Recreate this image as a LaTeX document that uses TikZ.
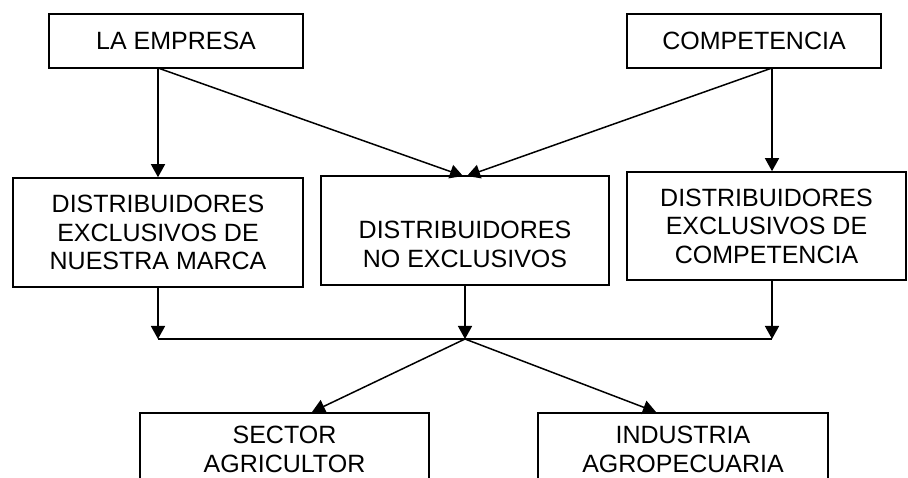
\documentclass[tikz,border=0pt]{standalone}
\usepackage{fontspec}
\setmainfont{Liberation Sans}
\usetikzlibrary{arrows.meta}
\tikzset{
  box/.style={draw, line width=1.6pt, inner sep=0pt, align=center, font=\fontsize{25}{28.5}\selectfont},
  txt/.style={inner sep=0pt, align=center, font=\fontsize{25}{28.5}\selectfont},
  arr/.style={line width=1.5pt, -{Triangle[length=13pt,width=14pt]}},
  ln/.style={line width=1.5pt}
}
\begin{document}
\begin{tikzpicture}[x=1pt,y=-1pt]
\clip (0,0) rectangle (908,478);
% top boxes
\node[box, minimum width=254pt, minimum height=54pt] (emp) at (176,41) {LA EMPRESA};
\node[box, minimum width=254pt, minimum height=54pt] (comp) at (754,41) {COMPETENCIA};
% middle row
\node[box, minimum width=290pt, minimum height=109pt] (izq) at (158,232.5) {DISTRIBUIDORES\\EXCLUSIVOS DE\\NUESTRA MARCA};
\node[box, minimum width=288pt, minimum height=109pt] (mid) at (465,230.5) {};
\node[txt] (midt) at (465,244.5) {DISTRIBUIDORES\\NO EXCLUSIVOS};
\node[box, minimum width=279pt, minimum height=108pt] (der) at (766.5,226) {DISTRIBUIDORES\\EXCLUSIVOS DE\\COMPETENCIA};
% bottom boxes (cut off by the lower edge, as in the reference)
\node[box, anchor=north, minimum width=289pt, minimum height=90pt] (sec) at (284.5,412) {};
\node[txt] (sect) at (284.5,449.5) {SECTOR\\AGRICULTOR};
\node[box, anchor=north, minimum width=290pt, minimum height=90pt] (ind) at (683,412) {};
\node[txt] (indt) at (683,449.5) {INDUSTRIA\\AGROPECUARIA};
% coordinates
\coordinate (empo) at (158,68);
\coordinate (compo) at (772,68);
\coordinate (m1) at (463,176);
\coordinate (m2) at (467,176);
\coordinate (j1) at (158,339);
\coordinate (j2) at (465,339);
\coordinate (j3) at (772,339);
\coordinate (s1) at (312,412);
\coordinate (s2) at (656,412);
% connectors
\draw[arr] (empo) -- (izq.north -| empo);
\draw[arr] (empo) -- (m1);
\draw[arr] (compo) -- (m2);
\draw[arr] (compo) -- (der.north -| compo);
\draw[arr] (izq.south -| j1) -- (j1);
\draw[arr] (mid.south -| j2) -- (j2);
\draw[arr] (der.south -| j3) -- (j3);
\draw[ln] (j1) -- (j3);
\draw[arr] (j2) -- (s1);
\draw[arr] (j2) -- (s2);
\end{tikzpicture}
\end{document}
